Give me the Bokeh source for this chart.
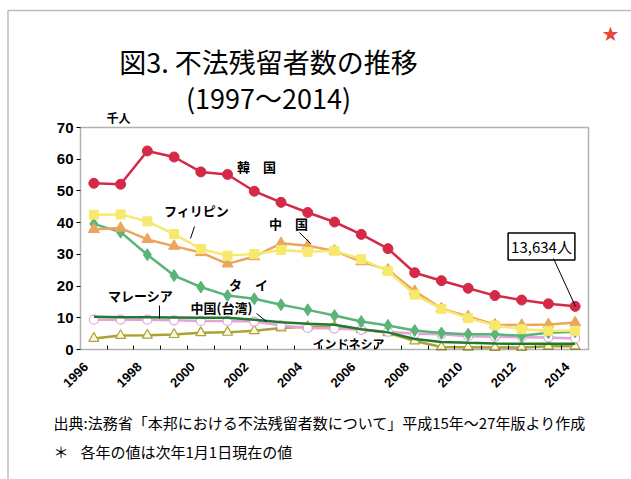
import math
from bokeh.plotting import figure
from bokeh.models import Label, Range1d, FixedTicker, BoxAnnotation, Arrow
from bokeh.embed import file_html
from bokeh.resources import INLINE

# ---------------- data (thousand persons) ----------------
years = list(range(1996, 2015))
korea = [52.4, 52.1, 62.6, 60.7, 56.0, 55.2, 49.9, 46.4, 43.2, 40.2,
         36.3, 31.8, 24.2, 21.7, 19.3, 17.0, 15.6, 14.4, 13.6]
philippines = [42.5, 42.6, 40.4, 36.4, 31.7, 29.6, 30.1, 31.4, 30.8, 31.1,
               28.5, 24.7, 17.3, 12.8, 9.9, 7.6, 6.4, 5.9, 5.9]
china = [37.9, 38.3, 34.7, 32.6, 30.6, 27.0, 29.3, 33.5, 32.7, 31.1,
         27.7, 25.1, 18.4, 12.9, 10.4, 7.8, 7.7, 7.9, 8.5]
thailand = [39.6, 37.0, 29.9, 23.3, 19.7, 17.0, 16.0, 14.1, 12.5, 10.7,
            8.8, 7.6, 6.0, 5.2, 4.8, 4.8, 4.3, 5.3, 5.6]
malaysia = [10.3, 10.2, 10.2, 10.1, 10.0, 10.0, 9.4, 8.6, 8.1, 7.8,
            6.4, 5.4, 3.3, 2.4, 2.1, 1.9, 1.8, 1.8, 1.8]
taiwan = [9.4, 9.4, 9.4, 9.2, 9.0, 9.0, 8.8, 7.6, 6.8, 6.6,
          6.2, 5.6, 5.0, 4.8, 4.2, 4.0, 3.9, 3.8, 3.5]
indonesia = [3.5, 4.4, 4.5, 4.7, 5.3, 5.4, 5.9, 6.8, 7.2, 7.2,
             6.3, 5.3, 2.7, 0.8, 0.7, 0.6, 0.6, 1.0, 1.0]
korea_last_persons = 13634
year_ticks = years[::2]
y_ticks = [0, 10, 20, 30, 40, 50, 60, 70]

title1 = "図3. 不法残留者数の推移"
title2 = "(1997～2014)"
source_note = "出典:法務省「本邦における不法残留者数について」平成15年～27年版より作成"
foot_note = "各年の値は次年1月1日現在の値"

JP = "Noto Sans CJK JP"
SANS = "Liberation Sans"

W, H = 631, 479
# chart box in canvas pixels
BL, BR, BT, BB = 80, 588, 127, 349
X0, X1 = years[0] - 0.5, years[-1] + 0.5
Y0, Y1 = 0, 70
sx = (BR - BL) / (X1 - X0)
sy = (BB - BT) / (Y1 - Y0)

def xd(px):
    return X0 + (px - BL) / sx

def yd(py):
    return Y0 + (BB - py) / sy

p = figure(width=W, height=H, output_backend="svg", toolbar_location=None,
           title=None, x_range=Range1d(xd(0), xd(W)), y_range=Range1d(yd(H), yd(0)),
           min_border=0)
p.background_fill_color = "white"
p.border_fill_color = "white"
p.outline_line_color = None
p.grid.visible = False

# axes fixed to the chart box
LABEL_SHIFT = 0.3   # rotated labels end slightly left of their category centre
label_pos = [y - LABEL_SHIFT for y in year_ticks]
xa = p.xaxis[0]
xa.fixed_location = Y0
xa.ticker = FixedTicker(ticks=label_pos, minor_ticks=[y + 0.5 for y in years[:-1]])
xa.major_label_overrides = {pos: str(y) for pos, y in zip(label_pos, year_ticks)}
xa.axis_line_color = None
xa.major_tick_in = 0
xa.major_tick_out = 0
xa.minor_tick_in = 4
xa.minor_tick_out = 0
xa.minor_tick_line_color = "black"
xa.minor_tick_line_width = 1
xa.major_label_orientation = math.pi / 4
xa.major_label_text_font = SANS
xa.major_label_text_font_style = "bold"
xa.major_label_text_font_size = "13px"
xa.major_label_text_color = "black"
xa.major_label_standoff = 15

ya = p.yaxis[0]
ya.fixed_location = X0
ya.ticker = FixedTicker(ticks=y_ticks)
ya.axis_line_color = None
ya.minor_tick_line_color = None
ya.major_tick_in = 0
ya.major_tick_out = 4
ya.major_label_text_font = SANS
ya.major_label_text_font_style = "bold"
ya.major_label_text_font_size = "15px"
ya.major_label_text_color = "black"
ya.major_label_standoff = 3

# series (bottom first)
LW = 2.5
c_ind = "#aca234"
p.line(years, indonesia, line_color=c_ind, line_width=LW)
p.scatter(years, indonesia, marker="triangle", size=10, line_color=c_ind,
          fill_color="#fbf8e0", line_width=1.2)

c_tw = "#e6a2d8"
p.line(years, taiwan, line_color=c_tw, line_width=LW)
p.scatter(years, taiwan, marker="circle", size=9, line_color=c_tw,
          fill_color="white", line_width=1.2)

c_my = "#1f7a2e"
p.line(years, malaysia, line_color=c_my, line_width=LW)

c_th = "#5ab478"
p.line(years, thailand, line_color=c_th, line_width=LW)
p.scatter(years, thailand, marker="diamond", size=12, line_color=c_th,
          fill_color=c_th)

c_cn = "#eba55c"
p.line(years, china, line_color=c_cn, line_width=LW)
p.scatter(years, china, marker="triangle", size=11, line_color=c_cn,
          fill_color=c_cn)

c_ph = "#f6e96e"
p.line(years, philippines, line_color=c_ph, line_width=LW)
p.scatter(years, philippines, marker="square", size=9, line_color=c_ph,
          fill_color=c_ph)

c_kr = "#d42a48"
p.line(years, korea, line_color=c_kr, line_width=LW)
p.scatter(years, korea, marker="circle", size=10, line_color=c_kr,
          fill_color=c_kr)

# chart box
p.add_layout(BoxAnnotation(left=X0, right=X1, bottom=Y0, top=Y1, fill_alpha=0,
                           line_color="black", line_width=1.5))
# outer page frame
p.add_layout(BoxAnnotation(left=xd(7.5), right=xd(W + 50), top=yd(10), bottom=yd(H + 50),
                           fill_alpha=0, line_color="#222222", line_width=1.5))

# ---------------- annotations ----------------
def lab(text, px, py, size, font=JP, bold=True, color="black", align="center", **kw):
    l = Label(x=xd(px), y=yd(py), text=text, text_font=font,
              text_font_size=size, text_font_style="bold" if bold else "normal",
              text_color=color, text_align=align, text_baseline="middle", **kw)
    p.add_layout(l)
    return l

def leader(x0, y0, x1, y1):
    p.add_layout(Arrow(x_start=xd(x0), y_start=yd(y0), x_end=xd(x1), y_end=yd(y1),
                       end=None, line_color="black", line_width=1))

lab("韓　国", 256, 166, "13px")
lab("フィリピン", 196, 210, "13px")
leader(194, 226, 190, 238)
lab("中　国", 288, 223, "13px")
leader(299, 232, 310, 243)
lab("タ　イ", 248, 284, "13px")
lab("マレーシア", 140, 295, "13px")
leader(159, 305, 159, 318)
lab("中国(台湾)", 221, 307, "13px")
leader(256, 313, 266, 321)
lab("インドネシア", 348, 343, "12px")
lab("千人", 118, 117, "12px")

lab(f"{korea_last_persons:,}人", 541, 246, "15px", bold=False,
    border_line_color="black", border_line_width=1.5,
    background_fill_color="white", padding=3)
leader(553, 258, 575, 306)

# titles / notes
lab(title1, 268, 61, "27px", bold=False)
lab(title2, 268, 97, "27px", bold=False)
lab(source_note, 53, 422, "15px", bold=False, align="left")
lab("＊", 53, 451, "15px", bold=False, align="left")
lab(foot_note, 80, 451, "15px", bold=False, align="left")
lab("★", 610, 33, "20px", font="DejaVu Sans", bold=False, color="#e8453c")

open("out.html", "w").write(file_html(p, INLINE))
